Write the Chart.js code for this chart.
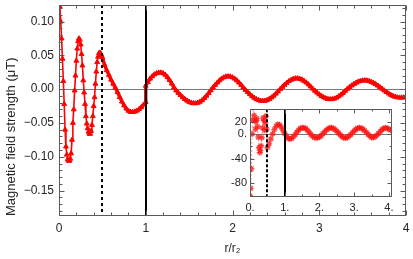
<!DOCTYPE html>
<html>
<head>
<meta charset="utf-8">
<script src="https://cdn.jsdelivr.net/npm/chart.js@4.4.1/dist/chart.umd.min.js"></script>
<style>
    html, body { margin: 0; padding: 0; background: #fff; }
    #wrap { position: relative; width: 413px; height: 259px; }
    #main { position: absolute; left: 0; top: 0; }
    #inset { position: absolute; left: 226px; top: 104px; }
</style>
</head>
<body>
<div id="wrap">
    <canvas id="main" width="413" height="259"></canvas>
    <canvas id="inset" width="171" height="111"></canvas>
</div>
<script>
// main panel: field strength (uT) against r/r2
const mainR = [
    0.00, 0.01, 0.02, 0.03, 0.04, 0.05, 0.06, 0.07, 0.08, 0.09,
    0.10, 0.11, 0.12, 0.13, 0.14, 0.15, 0.16, 0.17, 0.18, 0.19,
    0.20, 0.21, 0.22, 0.23, 0.24, 0.25, 0.26, 0.27, 0.28, 0.29,
    0.30, 0.31, 0.32, 0.33, 0.34, 0.35, 0.36, 0.37, 0.38, 0.39,
    0.40, 0.41, 0.42, 0.43, 0.44, 0.45, 0.46, 0.47, 0.48, 0.49,
    0.50, 0.525, 0.55, 0.575, 0.60, 0.625, 0.65, 0.675, 0.70, 0.725,
    0.75, 0.775, 0.80, 0.825, 0.85, 0.875, 0.90, 0.925, 0.95, 0.975,
    1.00, 1.00, 1.025, 1.05, 1.075, 1.10, 1.125, 1.15, 1.175, 1.20,
    1.225, 1.25, 1.275, 1.30, 1.325, 1.35, 1.375, 1.40, 1.425, 1.45,
    1.475, 1.50, 1.525, 1.55, 1.575, 1.60, 1.625, 1.65, 1.675, 1.70,
    1.725, 1.75, 1.775, 1.80, 1.825, 1.85, 1.875, 1.90, 1.925, 1.95,
    1.975, 2.00, 2.025, 2.05, 2.075, 2.10, 2.125, 2.15, 2.175, 2.20,
    2.225, 2.25, 2.275, 2.30, 2.325, 2.35, 2.375, 2.40, 2.425, 2.45,
    2.475, 2.50, 2.525, 2.55, 2.575, 2.60, 2.625, 2.65, 2.675, 2.70,
    2.725, 2.75, 2.775, 2.80, 2.825, 2.85, 2.875, 2.90, 2.925, 2.95,
    2.975, 3.00, 3.025, 3.05, 3.075, 3.10, 3.125, 3.15, 3.175, 3.20,
    3.225, 3.25, 3.275, 3.30, 3.325, 3.35, 3.375, 3.40, 3.425, 3.45,
    3.475, 3.50, 3.525, 3.55, 3.575, 3.60, 3.625, 3.65, 3.675, 3.70,
    3.725, 3.75, 3.775, 3.80, 3.825, 3.85, 3.875, 3.90, 3.925, 3.95,
    3.975, 4.00
]
const mainB = [
    0.135, 0.122, 0.100, 0.075, 0.045, 0.012, -0.022, -0.060, -0.085, -0.097,
    -0.104, -0.106, -0.106, -0.103, -0.095, -0.075, -0.050, -0.030, -0.002, 0.020,
    0.042, 0.060, 0.071, 0.075, 0.073, 0.066, 0.052, 0.035, 0.013, -0.005,
    -0.022, -0.040, -0.051, -0.058, -0.063, -0.066, -0.066, -0.062, -0.053, -0.040,
    -0.025, -0.012, 0.008, 0.026, 0.040, 0.048, 0.053, 0.054, 0.053, 0.050,
    0.047, 0.036, 0.028, 0.021, 0.014, 0.008, 0.002, -0.0045, -0.0116, -0.0183,
    -0.024, -0.0287, -0.032, -0.0337, -0.0339, -0.0332, -0.0318, -0.0295, -0.0266, -0.0231,
    -0.019, 0.005, 0.0105, 0.0155, 0.019, 0.0218, 0.0235, 0.0244, 0.0245, 0.0235,
    0.0213, 0.0178, 0.0134, 0.0082, 0.0025, -0.002, -0.0055, -0.0088, -0.012, -0.0147,
    -0.017, -0.0189, -0.0201, -0.0209, -0.021, -0.0202, -0.0187, -0.0164, -0.0134, -0.0098,
    -0.0059, -0.0017, 0.0024, 0.0062, 0.0097, 0.0129, 0.0155, 0.0174, 0.0186, 0.019,
    0.0186, 0.0174, 0.0155, 0.0129, 0.0097, 0.0062, 0.0024, -0.0013, -0.0045, -0.0076,
    -0.0104, -0.0128, -0.0148, -0.0163, -0.0172, -0.0175, -0.0172, -0.0162, -0.0145, -0.0124,
    -0.0097, -0.0067, -0.0034, 0.000, 0.0033, 0.0064, 0.0093, 0.0118, 0.0137, 0.0151,
    0.0159, 0.016, 0.0153, 0.0141, 0.0122, 0.0098, 0.007, 0.0039, 0.0007, -0.0023,
    -0.0052, -0.0078, -0.0102, -0.0121, -0.0136, -0.0146, -0.015, -0.0148, -0.014, -0.0126,
    -0.0106, -0.0082, -0.0055, -0.0025, 0.0005, 0.003, 0.0054, 0.0076, 0.0095, 0.0111,
    0.0122, 0.0128, 0.013, 0.0127, 0.0119, 0.0107, 0.0092, 0.0073, 0.0052, 0.0029,
    0.0005, -0.002, -0.0043, -0.0065, -0.0085, -0.0101, -0.0114, -0.0122, -0.0125, -0.0125,
    -0.0123, -0.012
]

// inset panel
const insetR = [
    0.00, 0.02, 0.04, 0.06, 0.08, 0.10, 0.12, 0.14, 0.16, 0.18,
    0.20, 0.22, 0.24, 0.26, 0.28, 0.30, 0.32, 0.34, 0.36, 0.38,
    0.40, 0.42, 0.44, 0.46, 0.48, 0.50, 0.55, 0.60, 0.65, 0.70,
    0.75, 0.80, 0.85, 0.90, 0.95, 1.00, 1.05, 1.10, 1.15, 1.20,
    1.25, 1.30, 1.35, 1.40, 1.45, 1.50, 1.55, 1.60, 1.65, 1.70,
    1.75, 1.80, 1.85, 1.90, 1.95, 2.00, 2.05, 2.10, 2.15, 2.20,
    2.25, 2.30, 2.35, 2.40, 2.45, 2.50, 2.55, 2.60, 2.65, 2.70,
    2.75, 2.80, 2.85, 2.90, 2.95, 3.00, 3.05, 3.10, 3.15, 3.20,
    3.25, 3.30, 3.35, 3.40, 3.45, 3.50, 3.55, 3.60, 3.65, 3.70,
    3.75, 3.80, 3.85, 3.90, 3.95, 4.00, 4.05
]
const insetB = [
    -100, -88, -56, 0, 23, 45, 30, 21, 8, 21,
    25, 12, -5, -22, -30, -27, -19, -6, 10, 26,
    22, 6, 18, 29, 8, -22, -16, -8, 0, 7,
    12.5, 15.5, 15, 11, 6, 1, -3.5, -7, -8, -7,
    -4.5, -1, 3, 6.5, 9, 10, 10, 9, 6.5, 3,
    -0.5, -3.5, -5.5, -6, -6, -5, -2.5, 0.5, 3.5, 6.5,
    8.5, 10, 10, 9, 7, 4.5, 1.5, -1.5, -4.5, -6,
    -6.5, -5.5, -3.5, -1, 2, 5, 7.5, 9.5, 10, 9.5,
    8, 5.5, 2.5, -0.5, -3.5, -5.5, -5.5, -4.5, -2, 1,
    4, 7, 9, 10, 9.5, 8, 6
]

const mainXTicks = [0, 1, 2, 3, 4]
const mainXLabels = ['0', '1', '2', '3', '4']
const mainYTicks = [-0.15, -0.10, -0.05, 0.00, 0.05, 0.10]
const mainYLabels = ['\u22120.15', '\u22120.10', '\u22120.05', '0.00', '0.05', '0.10']
const insetXTicks = [0, 1, 2, 3, 4]
const insetXLabels = ['0.', '1.', '2.', '3.', '4.']
const insetYTicks = [-80, -40, 0, 20]
const insetYLabels = ['-80', '-40', '0.', '20']
const boundaryR = [0.5, 1]   // dashed, solid

const RED = 'rgb(255,0,0)'
const FONT = "'Liberation Sans', Arial, sans-serif"
const TEXT = '#262626'

const points = (rs, bs) => rs.map((r, i) => ({ x: r, y: bs[i] }))

function steps(from, to, step, skip) {
    const out = []
    for (let v = from; v <= to + 1e-9; v += step) {
        const rv = Math.round(v * 1000) / 1000
        if (!skip.some(s => Math.abs(s - rv) < 1e-6)) out.push(rv)
    }
    return out
}

// frame with inward ticks, zero line and the two boundary lines
const frameTicks = {
    id: 'frameTicks',
    beforeDatasetsDraw(chart, args, o) {
        const { ctx, chartArea: a, scales: { y } } = chart
        const y0 = Math.round(y.getPixelForValue(0)) + 0.5
        ctx.save()
        ctx.strokeStyle = o.zeroColor
        ctx.lineWidth = 1
        ctx.beginPath()
        ctx.moveTo(a.left, y0)
        ctx.lineTo(a.right, y0)
        ctx.stroke()
        ctx.restore()
    },
    afterDatasetsDraw(chart, args, o) {
        const { ctx, chartArea: a, scales: { x, y } } = chart
        ctx.save()
        ctx.strokeStyle = '#000'
        ctx.lineWidth = o.markWidth
        boundaryR.forEach((r, i) => {
            const px = Math.round(x.getPixelForValue(r))
            ctx.setLineDash(i === 0 ? o.dash : [])
            ctx.beginPath()
            ctx.moveTo(px, a.top)
            ctx.lineTo(px, a.bottom)
            ctx.stroke()
        })
        ctx.setLineDash([])

        const L = Math.round(a.left) + 0.5
        const R = Math.round(a.right) - 0.5
        const T = Math.round(a.top) + 0.5
        const B = Math.round(a.bottom) - 0.5
        ctx.strokeStyle = o.frameColor
        ctx.lineWidth = 1
        ctx.strokeRect(L, T, R - L, B - T)

        ctx.beginPath()
        const xt = (vals, len) => vals.forEach(v => {
            if (v < x.min || v > x.max) return
            const px = Math.round(x.getPixelForValue(v)) + 0.5
            ctx.moveTo(px, B); ctx.lineTo(px, B - len)
            ctx.moveTo(px, T); ctx.lineTo(px, T + len)
        })
        const yt = (vals, len) => vals.forEach(v => {
            if (v < y.min || v > y.max) return
            const py = Math.round(y.getPixelForValue(v)) + 0.5
            ctx.moveTo(L, py); ctx.lineTo(L + len, py)
            ctx.moveTo(R, py); ctx.lineTo(R - len, py)
        })
        xt(o.xMajor, o.majorLen)
        xt(o.xMinor, o.minorLen)
        yt(o.yMajor, o.majorLen)
        yt(o.yMinor, o.minorLen)
        ctx.stroke()
        ctx.restore()
    }
}

function fixedTicks(values) {
    return scale => { scale.ticks = values.map(v => ({ value: v })) }
}

function fixedBox(prop, size) {
    return scale => {
        scale[prop] = size
        scale.paddingTop = 0
        scale.paddingBottom = 0
        scale.paddingLeft = 0
        scale.paddingRight = 0
    }
}

new Chart(document.getElementById('main'), {
    type: 'line',
    data: {
        datasets: [{
            data: points(mainR, mainB),
            borderColor: RED,
            borderWidth: 1.6,
            // markers sit closer together past r2/2, the trace looks like a thick band there
            segment: {
                borderWidth: c => c.p0.parsed.x >= 0.5 ? 3.4 : 1.6
            },
            pointStyle: 'triangle',
            pointRadius: 2.8,
            pointBackgroundColor: RED,
            pointBorderColor: RED,
            pointBorderWidth: 1,
            tension: 0
        }]
    },
    options: {
        responsive: false,
        animation: false,
        devicePixelRatio: 1,
        layout: { padding: { top: 1, right: 7, left: 0, bottom: 0 } },
        plugins: {
            legend: { display: false },
            tooltip: { enabled: false },
            frameTicks: {
                zeroColor: '#7a7a7a',
                frameColor: '#5a5a5a',
                markWidth: 2,
                dash: [3, 3],
                majorLen: 5,
                minorLen: 3,
                xMajor: mainXTicks,
                xMinor: steps(0, 4, 0.2, mainXTicks),
                yMajor: mainYTicks,
                yMinor: steps(-0.18, 0.12, 0.01, mainYTicks)
            }
        },
        scales: {
            x: {
                type: 'linear',
                min: 0,
                max: 4,
                afterBuildTicks: fixedTicks(mainXTicks),
                afterFit: fixedBox('height', 43),
                grid: { display: false, drawTicks: false },
                border: { display: false },
                ticks: {
                    autoSkip: false,
                    maxRotation: 0,
                    padding: 5,
                    color: TEXT,
                    font: { family: FONT, size: 12 },
                    callback: (v, i) => mainXLabels[i]
                },
                title: {
                    display: true,
                    text: 'r/r\u2082',
                    color: TEXT,
                    font: { family: FONT, size: 12 },
                    padding: { top: 0, bottom: 3 }
                }
            },
            y: {
                type: 'linear',
                min: -0.1877,
                max: 0.1246,
                afterBuildTicks: fixedTicks(mainYTicks),
                afterFit: fixedBox('width', 59),
                grid: { display: false, drawTicks: false },
                border: { display: false },
                ticks: {
                    autoSkip: false,
                    padding: 5,
                    color: TEXT,
                    font: { family: FONT, size: 12 },
                    callback: (v, i) => mainYLabels[i]
                },
                title: {
                    display: true,
                    text: 'Magnetic field strength (\u03bcT)',
                    align: 'start',
                    color: TEXT,
                    font: { family: FONT, size: 13 },
                    padding: { top: 4, bottom: 0 }
                }
            }
        }
    },
    plugins: [frameTicks]
})

new Chart(document.getElementById('inset'), {
    type: 'line',
    data: {
        datasets: [{
            data: points(insetR, insetB),
            borderColor: 'rgba(255,0,0,0.45)',
            borderWidth: 1,
            borderDash: [2, 2],
            pointStyle: 'star',
            pointRadius: 3,
            pointBorderColor: 'rgba(255,20,20,0.8)',
            pointBorderWidth: 1.3,
            tension: 0
        }]
    },
    options: {
        responsive: false,
        animation: false,
        devicePixelRatio: 1,
        layout: { padding: { top: 4, right: 4, left: 0, bottom: 0 } },
        plugins: {
            legend: { display: false },
            tooltip: { enabled: false },
            frameTicks: {
                zeroColor: '#7a7a7a',
                frameColor: '#5a5a5a',
                markWidth: 2,
                dash: [3, 2],
                majorLen: 4,
                minorLen: 2,
                xMajor: insetXTicks,
                xMinor: steps(0, 4, 0.5, insetXTicks),
                yMajor: insetYTicks,
                yMinor: steps(-100, 40, 20, insetYTicks)
            }
        },
        scales: {
            x: {
                type: 'linear',
                min: 0,
                max: 4.08,
                afterBuildTicks: fixedTicks(insetXTicks),
                afterFit: fixedBox('height', 18),
                grid: { display: false, drawTicks: false },
                border: { display: false },
                ticks: {
                    autoSkip: false,
                    maxRotation: 0,
                    padding: 4,
                    color: TEXT,
                    font: { family: FONT, size: 11 },
                    callback: (v, i) => insetXLabels[i]
                }
            },
            y: {
                type: 'linear',
                min: -102,
                max: 40,
                afterBuildTicks: fixedTicks(insetYTicks),
                afterFit: fixedBox('width', 24),
                grid: { display: false, drawTicks: false },
                border: { display: false },
                ticks: {
                    autoSkip: false,
                    padding: 3,
                    color: TEXT,
                    font: { family: FONT, size: 11 },
                    callback: (v, i) => insetYLabels[i]
                }
            }
        }
    },
    plugins: [frameTicks]
})
</script>
</body>
</html>
